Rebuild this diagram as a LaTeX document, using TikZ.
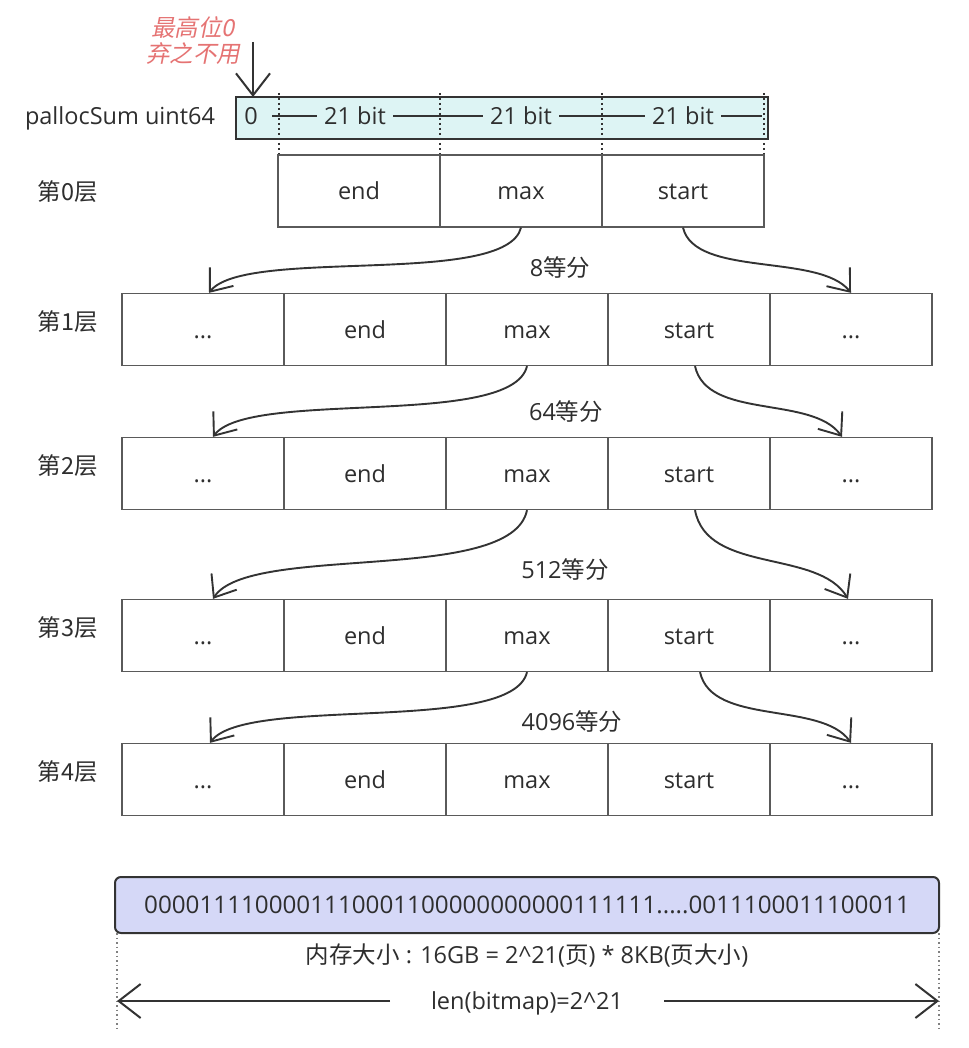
\documentclass[tikz,border=0pt]{standalone}
\usepackage{fontspec}
\setmainfont{Open Sans}
\newfontfamily\cjk{Noto Sans CJK SC}
\newfontfamily\cjkit[FakeSlant=0.2]{Noto Sans CJK SC}
\usetikzlibrary{arrows.meta}
\definecolor{txt}{HTML}{2E2E2E}
\definecolor{darkc}{HTML}{333333}
\definecolor{cellc}{HTML}{5A5A5A}
\definecolor{barc}{HTML}{DDF4F4}
\definecolor{bitc}{HTML}{D5D8F7}
\definecolor{redc}{HTML}{E57373}
\begin{document}
\begin{tikzpicture}[x=1pt,y=-1pt,
  every node/.style={text=txt, font=\fontsize{23.5}{27}\selectfont, inner sep=0pt, text height=18.5pt, text depth=1.5pt},
  cell/.style={draw=cellc, line width=1.3pt, minimum width=162pt, minimum height=72pt},
  lvl/.style={font=\fontsize{23.5}{27}\selectfont\cjk},
  curve/.style={draw=darkc, line width=1.9pt, -{Straight Barb[length=19pt,width=30pt]}},
  bigarrow/.style={draw=darkc, line width=2pt, -{Straight Barb[length=22pt,width=34pt]}},
  bitlabel/.style={fill=barc, inner xsep=7pt, inner ysep=0pt},
  sep/.style={draw=darkc, line width=2pt, dash pattern=on 2pt off 3pt},
  sepg/.style={draw=gray, line width=1.4pt, dash pattern=on 1.5pt off 3pt}
]
\useasboundingbox (0,0) rectangle (968,1048);

% top bar
\node[draw=darkc, line width=2.5pt, fill=barc, minimum width=532pt, minimum height=42pt] (bar) at (502,118) {};
\coordinate (hl) at (272,116);
\coordinate (hr) at (762,116);
\draw[darkc, line width=1.8pt] (hl) -- (hr);
\foreach \x in {279,440,602,764} \draw[sep] (\x,93) -- (\x,155);
\node (zero) at (251,116) {0};
\node[bitlabel] (b1) at (355,116) {21 bit};
\node[bitlabel] (b2) at (521,116) {21 bit};
\node[bitlabel] (b3) at (683,116) {21 bit};
\node (psum) at (120,116) {pallocSum uint64};

% top arrow and red label
\coordinate (atop) at (253,42);
\coordinate (abot) at (253,97);
\draw[bigarrow] (atop) -- (abot);
\node[font=\fontsize{23.5}{27}\selectfont\cjkit, text=redc] (red1) at (193,28) {最高位0};
\node[font=\fontsize{23.5}{27}\selectfont\cjkit, text=redc] (red2) at (193,54) {弃之不用};

% level 0
\node[cell] (e0) at (359,191) {end};
\node[cell] (m0) at (521,191) {max};
\node[cell] (s0) at (683,191) {start};
\node[lvl] (l0) at (68,192) {第0层};

% levels 1-4
\foreach \r/\y/\ly in {1/329.5/322, 2/473.5/466, 3/635.5/628, 4/779.5/772}{
  \node[cell] (da\r) at (203,\y) {...};
  \node[cell] (e\r) at (365,\y) {end};
  \node[cell] (m\r) at (527,\y) {max};
  \node[cell] (s\r) at (689,\y) {start};
  \node[cell] (db\r) at (851,\y) {...};
  \node[lvl] (l\r) at (68,\ly) {第\r 层};
}

% curves
\draw[curve] (m0.south) .. controls +(-15,60) and +(36,-46) .. ([xshift=6pt]da1.north);
\draw[curve] (s0.south) .. controls +(12,50) and +(-32,-40) .. (db1.north);
\node (c1) at (560,268) {8{\cjk 等分}};

\draw[curve] (m1.south) .. controls +(-15,63) and +(36,-48) .. ([xshift=10pt]da2.north);
\draw[curve] ([xshift=6pt]s1.south) .. controls +(12,54) and +(-30,-42) .. ([xshift=-9pt]db2.north);
\node (c2) at (566,412) {64{\cjk 等分}};

\draw[curve] (m2.south) .. controls +(-15,75) and +(36,-56) .. ([xshift=10pt]da3.north);
\draw[curve] ([xshift=6pt]s2.south) .. controls +(12,64) and +(-30,-50) .. ([xshift=-3pt]db3.north);
\node (c3) at (565,570) {512{\cjk 等分}};

\draw[curve] (m3.south) .. controls +(-15,63) and +(36,-48) .. ([xshift=7pt]da4.north);
\draw[curve] ([xshift=11pt]s3.south) .. controls +(12,54) and +(-30,-42) .. (db4.north);
\node (c4) at (572,722) {4096{\cjk 等分}};

% bitmap
\node[draw=darkc, line width=2pt, fill=bitc, rounded corners=6pt, minimum width=824pt, minimum height=56pt,
      font=\fontsize{24.2}{27}\selectfont] (bm) at (527,905) {0000111100001110001100000000000111111.....0011100011100011};
\coordinate (dl1) at (117,933);
\coordinate (dl2) at (117,1030);
\coordinate (dr1) at (939,933);
\coordinate (dr2) at (939,1030);
\draw[sepg] (dl1) -- (dl2);
\draw[sepg] (dr1) -- (dr2);
\node (mem) at (527,955) {{\cjk 内存大小} : 16GB = 2\^{}21({\cjk 页}) * 8KB({\cjk 页大小})};
\node (len) at (527,1001) {len(bitmap)=2\^{}21};
\coordinate (al) at (390,1001);
\coordinate (ale) at (117,1001);
\coordinate (ar) at (664,1001);
\coordinate (are) at (939,1001);
\draw[bigarrow] (al) -- (ale);
\draw[bigarrow] (ar) -- (are);
\end{tikzpicture}
\end{document}
